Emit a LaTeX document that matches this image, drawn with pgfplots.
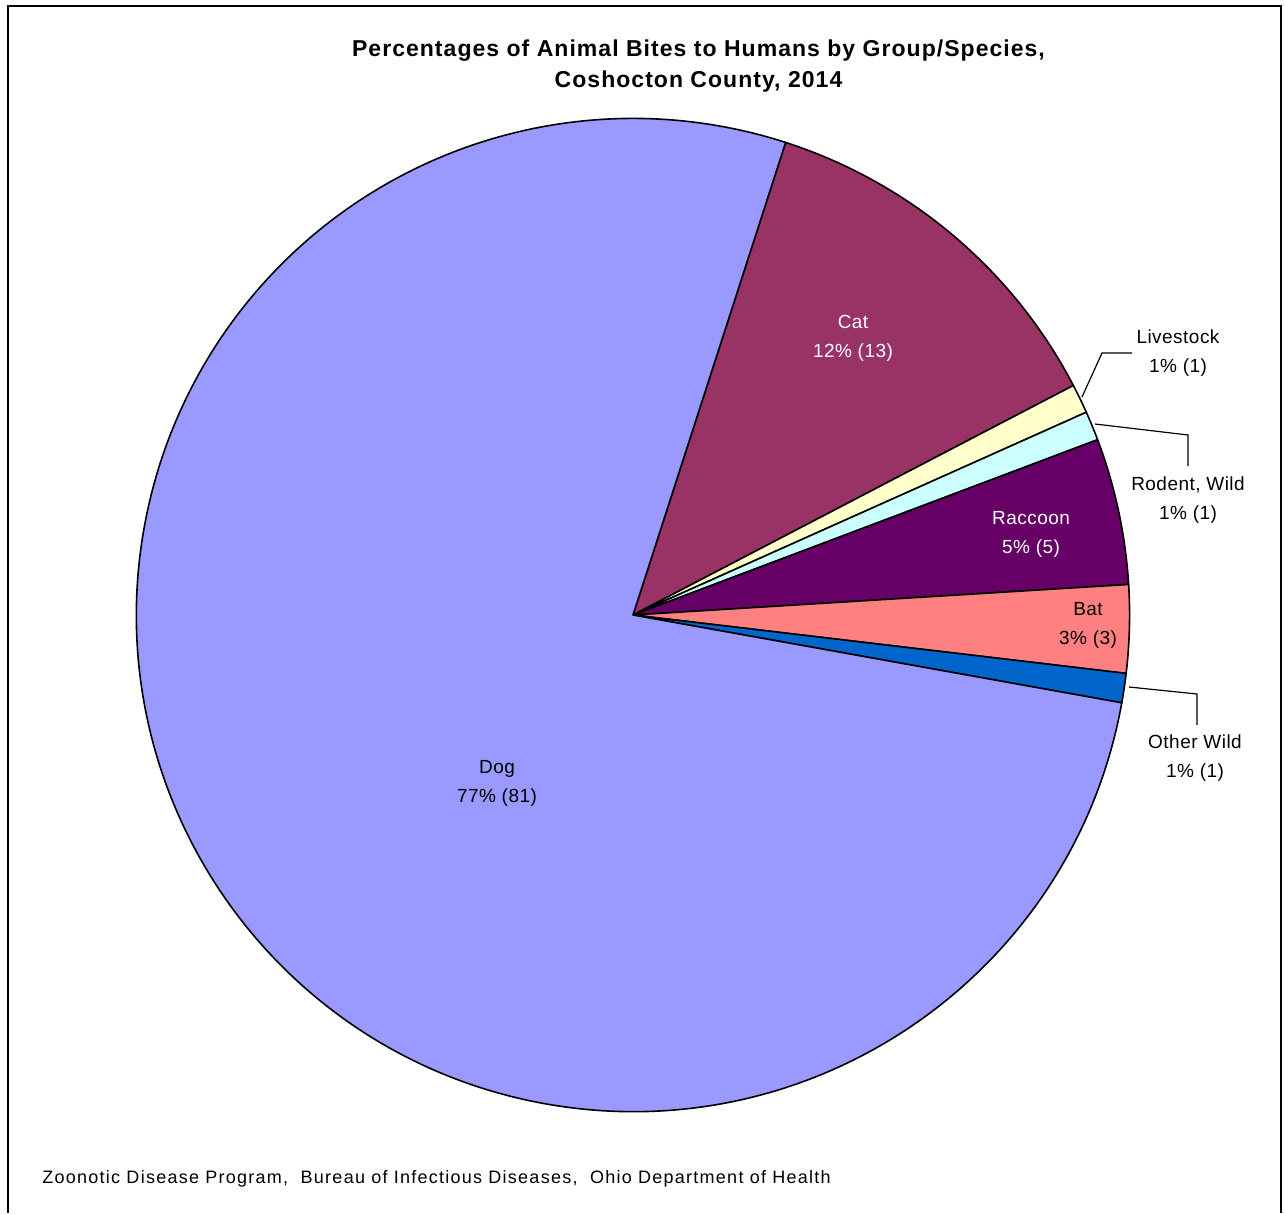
\documentclass[border=0pt]{standalone}
\usepackage{pgfplots}
\pgfplotsset{compat=1.18}
\usepackage{fontspec}
\setmainfont{Liberation Sans}
\definecolor{cDog}{HTML}{9999FF}
\definecolor{cCat}{HTML}{993366}
\definecolor{cLive}{HTML}{FFFFCC}
\definecolor{cRod}{HTML}{CCFFFF}
\definecolor{cRac}{HTML}{660066}
\definecolor{cBat}{HTML}{FF8080}
\definecolor{cOth}{HTML}{0066CC}
% counts (total 105)
\def\nCat{13}\def\nLive{1}\def\nRod{1}\def\nRac{5}\def\nBat{3}\def\nOth{1}\def\nDog{81}
\pgfmathsetmacro{\tot}{\nCat+\nLive+\nRod+\nRac+\nBat+\nOth+\nDog}
\pgfmathsetmacro{\u}{360/\tot}
\pgfmathsetmacro{\aA}{72.1}
\pgfmathsetmacro{\aB}{\aA-\nCat*\u}
\pgfmathsetmacro{\aC}{\aB-\nLive*\u}
\pgfmathsetmacro{\aD}{\aC-\nRod*\u}
\pgfmathsetmacro{\aE}{\aD-\nRac*\u}
\pgfmathsetmacro{\aF}{\aE-\nBat*\u}
\pgfmathsetmacro{\aG}{\aF-\nOth*\u}
\pgfmathsetmacro{\aH}{\aG-\nDog*\u}
\def\R{248.3pt}
\newcommand{\wedgeslice}[3]{%
  \filldraw[fill=#1, draw=black, line width=0.8pt, line join=round]
    (axis cs:633,615) -- ++(#2:\R) arc[start angle=#2, end angle=#3, radius=\R] -- cycle;}
\begin{document}
\begin{tikzpicture}
\begin{axis}[
  scale only axis, width=642.5pt, height=606.5pt,
  xmin=0, xmax=1285, ymin=0, ymax=1213, y dir=reverse,
  hide axis, clip=false]
\path (axis cs:0,0) rectangle (axis cs:1285,1213);
\wedgeslice{cCat}{\aA}{\aB}
\wedgeslice{cLive}{\aB}{\aC}
\wedgeslice{cRod}{\aC}{\aD}
\wedgeslice{cRac}{\aD}{\aE}
\wedgeslice{cBat}{\aE}{\aF}
\wedgeslice{cOth}{\aF}{\aG}
\wedgeslice{cDog}{\aG}{\aH}
% frame
\draw[line width=1pt] (axis cs:8,1213) -- (axis cs:8,6) -- (axis cs:1281,6) -- (axis cs:1281,1213);
% title
\node[align=center, font=\bfseries\fontsize{11.5}{15.5}\selectfont\addfontfeatures{LetterSpace=4.5}] at (axis cs:698.5,66.5)
  {Percentages of Animal Bites to Humans by Group/Species,\\Coshocton County, 2014};
% labels
\tikzset{lab/.style={align=center, font=\fontsize{9.5}{14.5}\selectfont\addfontfeatures{LetterSpace=2.5}}}
\node[lab, text=white] at (axis cs:853,338) {Cat\\12\% (13)};
\node[lab] at (axis cs:497,783) {Dog\\77\% (81)};
\node[lab, text=white] at (axis cs:1031,534) {Raccoon\\5\% (5)};
\node[lab] at (axis cs:1088,625) {Bat\\3\% (3)};
\node[lab] at (axis cs:1178,353) {Livestock\\1\% (1)};
\node[lab] at (axis cs:1188,500) {Rodent, Wild\\1\% (1)};
\node[lab] at (axis cs:1195,758) {Other Wild\\1\% (1)};
% leader lines
\draw[line width=0.6pt] (axis cs:1082,397) -- (axis cs:1102,353) -- (axis cs:1132,353);
\draw[line width=0.6pt] (axis cs:1095,424) -- (axis cs:1188,435) -- (axis cs:1188,466);
\draw[line width=0.6pt] (axis cs:1129,687) -- (axis cs:1197,694) -- (axis cs:1197,725);
% footer
\node[anchor=west, inner xsep=0pt, font=\fontsize{9}{11}\selectfont\addfontfeatures{LetterSpace=7}] at (axis cs:42,1179)
  {Zoonotic Disease Program,\ \ Bureau of Infectious Diseases,\ \ Ohio Department of Health};
\end{axis}
\end{tikzpicture}
\end{document}
